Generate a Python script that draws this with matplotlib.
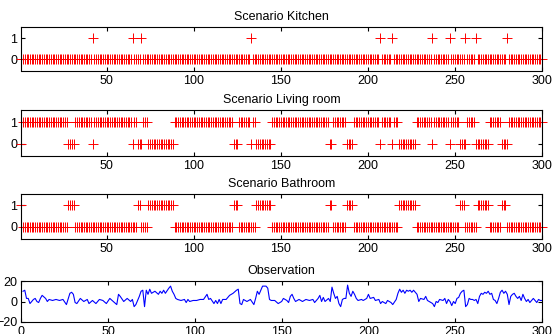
import numpy as np
import matplotlib
matplotlib.use("Agg")
import matplotlib.pyplot as plt

plt.rcParams["font.family"] = ["Liberation Sans", "DejaVu Sans"]

# time steps 1..300; the person is in exactly one room per step
n_steps = 300
kitchen_t = [42, 65, 70, 133, 207, 214, 237, 247, 256, 262, 280]
bathroom_spans = [(1, 1), (28, 31), (68, 69), (74, 88), (123, 125), (136, 144),
                  (178, 179), (188, 191), (218, 227), (253, 255), (263, 269),
                  (277, 279)]

titles = ["Scenario Kitchen", "Scenario Living room", "Scenario Bathroom", "Observation"]
state_ticks = [0, 1]
x_ticks_top = [50, 100, 150, 200, 250, 300]
x_ticks_obs = [0, 50, 100, 150, 200, 250, 300]
obs_ticks = [-20, 0, 20]

# observation
obs_x = [1, 2, 3, 4, 5, 7, 8, 9, 10, 11, 12, 14, 15, 16, 18, 20, 22, 24, 26, 28,
         29, 30, 31, 32, 34, 36, 38, 39, 41, 43, 45, 47, 49, 51, 53, 55, 56, 57,
         59, 61, 63, 64, 65, 66, 68, 69, 70, 71, 72, 73, 74, 75, 77, 79, 80, 81,
         82, 83, 85, 86, 87, 88, 89, 90, 92, 94, 95, 96, 97, 99, 101, 103, 105,
         107, 108, 109, 111, 112, 113, 114, 115, 116, 118, 120, 122, 124, 125,
         126, 127, 128, 130, 132, 134, 135, 136, 137, 138, 139, 141, 142, 143,
         144, 146, 148,
         150, 151, 152, 153, 154, 155, 156, 157, 158, 160, 162, 164, 166, 168,
         169, 171, 172, 173, 174, 175, 177, 178, 179, 180, 181, 182, 183, 184,
         185, 186, 187, 188, 189, 190, 191, 192, 193, 194, 196, 197, 199, 200,
         201, 203, 204, 206, 207, 208, 210, 211, 213, 214, 216, 217, 218, 219,
         220, 221, 222, 223, 224, 225, 226, 228, 229, 230, 232, 233, 234, 235,
         237, 238, 239, 240, 241, 243, 244, 245, 246, 247, 248, 249, 250, 251,
         252, 253, 254, 255, 256, 257, 258, 259, 260, 261, 262, 263, 264, 265,
         266, 267, 268, 269, 270, 271, 272, 273, 274, 275, 276, 277, 278, 279,
         280, 281, 282, 283, 284, 285, 286, 287, 288, 289, 290, 291, 292, 293,
         294, 295, 296, 297, 298, 299, 300]
obs_y = [10, 11, 3, 3, -2, 2, 3, 0, -1, 3, 6, 3, 0, 2, 1, 2, 1, 2, -3, 8,
         9, 7, -1, -2, 3, 0, 2, -2, 1, -2, 2, 1, -2, 3, 0, -3, 7, 5,
         0, 3, 0, 2, -5, -3, 5, 10, 11, -5, 11, 7, 12, 8, 10, 7, 10, 8,
         11, 8, 13, 15, 10, 7, 3, 2, 1, 2, -1, 2, 0, 1, 1, 2, 2,
         7, 2, 3, -2, 1, -2, 2, -2, 2, 2, 6, 8, 11, 12,
         -2, -3, 2, 0, 2, -3, 3, 10, 7, 11, 15, 15, 13, 2,
         1, 1, -2,
         0, 3, 2, 1, -1, 5, 7, 3, 0, 2, 0, 2, 1, 2,
         -1, 3, 6, 0, 4, 0, 3, 0, 14, 8, 3, 5, -2, -5,
         2, 3, 3, 16, 8, 5, 10, 7, 3, 1, 2, 1, 3, 7,
         3, 4, 1, 2, -2, 0, -2, 1, -1, -3, 2, 8, 12, 9,
         11, 8, 11, 10, 11, 9, 11, 7, 0, 3, 2, 5, 1, 0,
         -2, -5, 0, -1, 2, 1, 3, -2, 2, 0, -4, 0, -2, 3,
         4, 8, 10, 11, -5, -3, 3, 2, 2, 1, 2, -2, 5, 8,
         7, 9, 8, 10, 7, 8, 2, 1, -2, 3, 9, 11, 8, 10,
         7, -3, 5, 7, 8, 5, 3, 5, 1, 7, 3, 0, 2, -1,
         1, 3, 1, -1, 2, 1, 1]

t = np.arange(1, n_steps + 1)
kitchen = np.isin(t, kitchen_t).astype(int)
bathroom = np.zeros(n_steps, dtype=int)
for a, b in bathroom_spans:
    bathroom[(t >= a) & (t <= b)] = 1
living = 1 - kitchen - bathroom
states = [kitchen, living, bathroom]

fig = plt.figure(figsize=(5.52, 3.34), dpi=100)
W, H = 552, 334
boxes = [(27, 70.5), (110, 156), (193.5, 238.5), (281, 322)]
left, right = 21.3, 542


def add_axes(top, bottom):
    return fig.add_axes([left / W, 1 - bottom / H, (right - left) / W, (bottom - top) / H])


def style(ax):
    for s in ax.spines.values():
        s.set_linewidth(0.8)
    ax.tick_params(direction="in", top=True, right=True, length=3, width=0.8,
                   labelsize=9, pad=3)


for k in range(3):
    ax = add_axes(*boxes[k])
    ax.plot(t, states[k], "r+", markersize=6.5, markeredgewidth=0.7, clip_on=False)
    ax.set_xlim(1, 300)
    ax.set_ylim(-0.55, 1.55)
    ax.set_xticks(x_ticks_top)
    ax.set_yticks(state_ticks)
    ax.set_title(titles[k], fontsize=9, pad=5)
    style(ax)

ax = add_axes(*boxes[3])
ax.plot(obs_x, obs_y, color="blue", lw=0.8)
ax.set_xlim(0, 300)
ax.set_ylim(-20, 20)
ax.set_xticks(x_ticks_obs)
ax.set_yticks(obs_ticks)
ax.set_title(titles[3], fontsize=9, pad=5)
style(ax)

fig.savefig("out.png", dpi=100)
